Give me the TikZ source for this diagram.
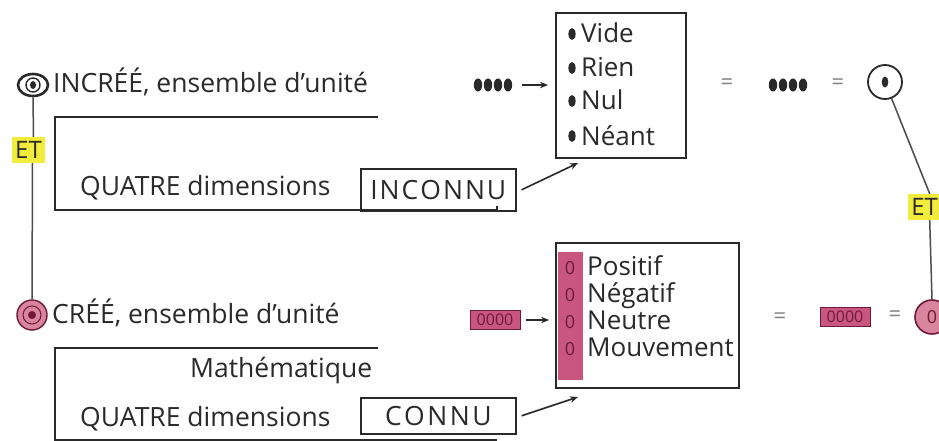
\documentclass[tikz,border=0pt]{standalone}
\usepackage{fontspec}
\setmainfont{Open Sans}
\usetikzlibrary{arrows.meta,shapes.geometric}
\definecolor{pinkf}{HTML}{C9567F}
\definecolor{pinkl}{HTML}{D9859F}
\definecolor{pinkd}{HTML}{6E1A38}
\definecolor{etyel}{HTML}{F2EC3C}
\definecolor{ink}{HTML}{2A2A2A}
\begin{document}
\begin{tikzpicture}[x=1pt,y=-1pt,
  txt/.style={inner sep=0pt, anchor=base west, font=\fontsize{26.5}{30}\selectfont, text=ink},
  itm/.style={inner sep=0pt, anchor=base west, font=\fontsize{26}{30}\selectfont, text=ink},
  eqs/.style={inner sep=0pt, font=\fontsize{22}{24}\selectfont, text=black!50},
  frameline/.style={line width=1.6pt, draw=ink},
  boxed/.style={draw=ink, line width=1.6pt, inner sep=0pt, anchor=north west, font=\fontsize{26.5}{30}\selectfont, text=ink},
  arr/.style={-{Stealth[length=8pt,width=6.5pt]}, line width=1.6pt, draw=ink},
  conn/.style={line width=1.5pt, draw=black!70},
  etbox/.style={fill=etyel, inner sep=1pt, minimum width=33pt, minimum height=26pt, font=\fontsize{24}{26}\selectfont, text=ink},
  pinkbox/.style={fill=pinkf, draw=pinkd, line width=1pt, inner sep=0pt, minimum width=50pt, minimum height=19pt, font=\fontsize{16}{17}\selectfont, text=pinkd},
  zero/.style={inner sep=0pt, anchor=base, font=\fontsize{18}{19}\selectfont, text=pinkd}]
\path[use as bounding box, fill=white] (0,0) rectangle (939,441);

% ---------- top-left: INCREE ----------
\node[draw=ink, line width=2.6pt, ellipse, minimum width=30pt, minimum height=22pt, inner sep=0pt] (s1) at (33,85) {};
\draw[ink, line width=1.4pt] (33,85) circle (7);
\fill[ink] (33,85) ellipse (3 and 4);
\node[txt] (incree) at (53,93) {INCRÉÉ, ensemble d’unité};
\node[etbox] (et1) at (28.5,150) {ET};
\draw[frameline] (378,117) -- (55,117) -- (55,210) -- (497,210) -- (497,206);
\node[txt] (q1) at (80,195) {QUATRE dimensions};
\node[boxed, minimum width=155pt, minimum height=42pt] (inc) at (360,168) {I\kern2pt N\kern2pt C\kern2pt O\kern2pt N\kern2pt N\kern2pt U};

% ---------- top-right ----------
\node[minimum width=42pt, minimum height=14pt, inner sep=0pt] (d1) at (493,85) {};
\foreach \i in {0,1,2,3} \fill[ink] ({478+10*\i},85) ellipse (4.2 and 6.5);
\node[boxed, minimum width=130pt, minimum height=145pt] (box1) at (555,12) {};
\foreach \y/\w/\n in {43/Vide/v1, 77/Rien/v2, 110/Nul/v3, 145/Néant/v4}{
  \fill[ink] (572,\y-9) ellipse (3.6 and 6);
  \node[itm] (\n) at (581,\y) {\w};
}
\draw[arr] ([xshift=8pt]d1.east) -- ([xshift=-7pt]d1 -| box1.west);
\coordinate (a1) at (578,163);
\draw[arr] ([xshift=5pt]inc.east) -- (a1);

\node[eqs] (eq1) at (727,84) {=};
\node[minimum width=42pt, minimum height=14pt, inner sep=0pt] (d2) at (788,85) {};
\foreach \i in {0,1,2,3} \fill[ink] ({773+10*\i},85) ellipse (4.2 and 6.5);
\node[eqs] (eq2) at (838,84) {=};
\node[draw=ink, circle, line width=1.8pt, minimum size=34pt, inner sep=0pt] (c2) at (885,82) {};
\fill[ink] (885,82) ellipse (3.3 and 5.5);
\node[etbox, anchor=west] (et2) at (908,207) {ET};
\draw[conn] (c2) -- ([xshift=5pt]et2.north);

% ---------- bottom-left: CREE ----------
\node[draw=pinkd, fill=pinkl, circle, line width=1.4pt, minimum size=30pt, inner sep=0pt] (c1) at (32,315) {};
\draw[pinkd, line width=1pt] (32,315) circle (9);
\fill[pinkd] (32,315) circle (4);
\node[txt] (cree) at (52,323) {CRÉÉ, ensemble d’unité};
\draw[conn] ([xshift=4pt]et1.south) -- (c1.north);
\draw[conn] (s1.south) -- ([xshift=5pt]et1.north);
\draw[frameline] (378,348) -- (55,348) -- (55,440) -- (497,440);
\node[txt] (math) at (190,377) {Mathématique};
\node[txt] (q2) at (80,426) {QUATRE dimensions};
\node[boxed, minimum width=155pt, minimum height=36pt] (con) at (360,397) {C\kern2.5pt O\kern2.5pt N\kern2.5pt N\kern2.5pt U};

% ---------- bottom-right ----------
\node[pinkbox] (p1) at (495,320) {0000};
\node[boxed, minimum width=183pt, minimum height=145pt] (box2) at (555,242) {};
\fill[pinkf] (558,252) rectangle (583,380);
\foreach \y/\w/\n in {275/Positif/w1, 302/Négatif/w2, 329/Neutre/w3, 356/Mouvement/w4}{
  \node[zero] at (570,\y-1) {0};
  \node[itm] (\n) at (587,\y) {\w};
}
\draw[arr] ([xshift=5pt]p1.east) -- ([xshift=-6pt]p1 -| box2.west);
\coordinate (a2) at (578,397);
\draw[arr] ([xshift=5pt]con.east) -- (a2);

\node[eqs] (eq3) at (780,318) {=};
\node[pinkbox] (p2) at (845,317) {0000};
\node[eqs] (eq4) at (895,316) {=};
\node[draw=pinkd, fill=pinkl, circle, line width=1.6pt, minimum size=34pt, inner sep=0pt, font=\fontsize{18}{19}\selectfont, text=pinkd] (c3) at (932,317) {0};
\draw[conn] ([xshift=5pt]et2.south) -- (c3.north);
\end{tikzpicture}
\end{document}
